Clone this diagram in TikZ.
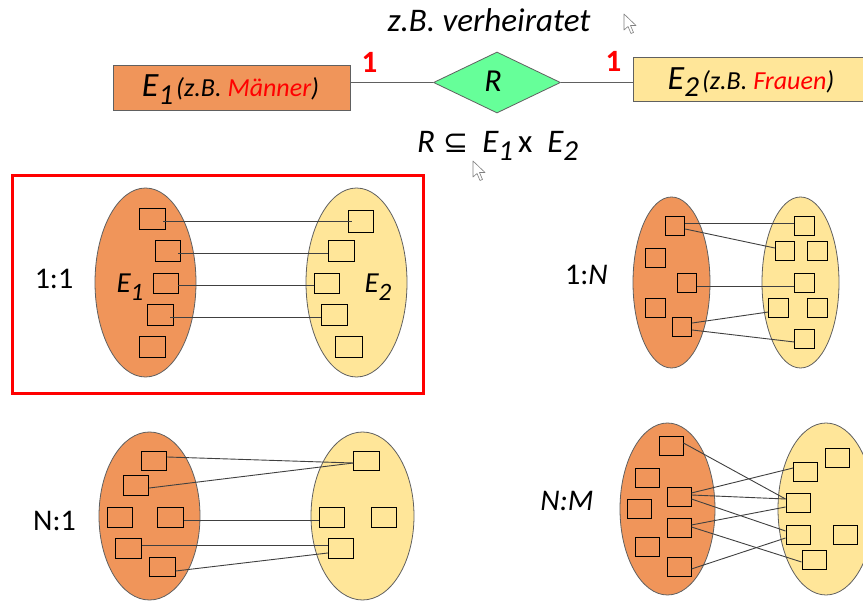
\documentclass[tikz,border=0pt]{standalone}
\usepackage{fontspec}
\setmainfont{Carlito}
\newfontfamily\symfont{DejaVu Sans}
\usetikzlibrary{shapes.geometric,calc}
\definecolor{eorange}{HTML}{F0955A}
\definecolor{eyellow}{HTML}{FFE699}
\definecolor{rgreen}{HTML}{66FF99}
\definecolor{lgray}{HTML}{404040}
\definecolor{egray}{HTML}{606060}
\newcommand\fs[1]{\fontsize{#1}{#1}\selectfont}
\newcommand\bx[5]{\node[elem, minimum width=#4, minimum height=#5] (#1) at (#2,#3) {};}
\newcommand\setell[6]{\node[set, fill=#6, minimum width=#4, minimum height=#5] (#1) at (#2,#3) {};}
\begin{document}
\begin{tikzpicture}[x=1pt,y=-1pt,
  elem/.style={draw=black, line width=0.9pt, inner sep=0pt},
  set/.style={ellipse, draw=egray, line width=0.8pt, inner sep=0pt},
  link/.style={draw=lgray, line width=0.9pt},
  txt/.style={inner sep=0pt, anchor=base},
  entity/.style={draw=egray, line width=0.9pt, inner sep=0pt},
  cursor/.style={fill=white, draw=gray, line width=0.6pt, line join=round}]
\useasboundingbox (0,0) rectangle (863,602);
\fill[white] (0,0) rectangle (863,602);

% ---------- top ER diagram ----------
\node[txt] (verh) at (489,32) {\fs{33}\itshape z.B. verheiratet};
\node[entity, fill=eorange, minimum width=237, minimum height=45] (E1) at (231.5,87.5) {};
\node[entity, fill=eyellow, minimum width=262, minimum height=44] (E2) at (764,79) {};
\node[diamond, draw=egray, fill=rgreen, line width=0.8pt, inner sep=0pt,
      minimum width=127, minimum height=61] (R) at (497,82.5) {};
\draw[link, draw=egray] (E1.east |- R.west) -- (R.west);
\draw[link, draw=egray] (R.east) -- (E2.west |- R.east);
\node[txt] (rlab) at (493,92) {\fs{32}\itshape R};
\node[txt] (E1t) at (230.5,97) {\itshape\fs{34}E\raisebox{-8pt}{\fs{29}1}\hspace{3pt}\fs{26}(z.B. \textcolor{red}{Männer})};
\node[txt] (E2t) at (751,89) {\itshape\fs{34}E\raisebox{-8pt}{\fs{29}2}\hspace{3pt}\fs{26}(z.B. \textcolor{red}{Frauen})};
\node[txt, text=red] (c1) at (369.5,73) {\fs{31}\bfseries 1};
\node[txt, text=red] (c2) at (613.5,72) {\fs{31}\bfseries 1};
\node[txt, anchor=base west] (subset) at (417,153) {\fs{33}\textit{R}\hspace{8pt}{\symfont\fs{30}⊆}\hspace{14pt}\textit{E\raisebox{-8pt}{\fs{29}1}}\hspace{5pt}x\hspace{15pt}\textit{E\raisebox{-8pt}{\fs{29}2}}};

% cursors
\draw[cursor] (624,14) -- (624,30) -- (628,26.5) -- (631,33.5) -- (633.5,32.5) -- (630.5,25.5) -- (636,25.5) -- cycle;
\draw[cursor] (473,161) -- (473,177) -- (477,173.5) -- (480,180.5) -- (482.5,179.5) -- (479.5,172.5) -- (485,172.5) -- cycle;

% ---------- 1:1 ----------
\draw[red, line width=3pt] (12,175) rectangle (423,393);
\node[txt] (t11) at (54,288) {\fs{30}1:1};
\setell{A1}{145.5}{282.5}{101}{189}{eorange}
\setell{B1}{356.5}{282.5}{101}{189}{eyellow}
\node[txt] (A1t) at (130,292) {\itshape\fs{29}E\raisebox{-8pt}{\fs{25}1}};
\node[txt] (B1t) at (378,292) {\itshape\fs{29}E\raisebox{-8pt}{\fs{25}2}};
\bx{l1}{152}{218.5}{26}{21}
\bx{l2}{167.5}{250.5}{25}{21}
\bx{l3}{165.5}{283}{25}{20}
\bx{l4}{160}{314.5}{26}{21}
\bx{l5}{152}{346.5}{26}{21}
\bx{r1}{360.5}{221}{25}{22}
\bx{r2}{341}{250.5}{26}{21}
\bx{r3}{326.5}{283}{25}{20}
\bx{r4}{334}{314.5}{26}{21}
\bx{r5}{348.5}{346.5}{27}{21}
\draw[link] ($(l1.east)+(-2,2.5)$) -- ($(r1.west)+(4,0)$);
\draw[link] ($(l2.east)+(-2,2.5)$) -- ($(r2.west)+(0,2.5)$);
\draw[link] ($(l3.east)+(0,2)$) -- ($(r3.west)+(0,2)$);
\draw[link] ($(l4.east)+(-3,2.5)$) -- ($(r4.west)+(0,2.5)$);

% ---------- 1:N ----------
\node[txt] (t1n) at (586.5,284) {\fs{30}1:\textit{N}};
\setell{A2}{671.5}{282.5}{77}{171}{eorange}
\setell{B2}{800.5}{282.5}{77}{171}{eyellow}
\bx{pa}{675}{225.5}{19.5}{19}
\bx{pb}{655.5}{257.5}{19.5}{19}
\bx{pc}{687}{282.5}{19.5}{19}
\bx{pd}{655.5}{307.5}{19.5}{19}
\bx{pe}{682}{326.5}{19.5}{19}
\bx{qa}{804.5}{225.5}{19.5}{19}
\bx{qb}{785}{251}{19.5}{19}
\bx{qc}{817.5}{251}{19.5}{19}
\bx{qd}{804.5}{282.5}{19.5}{19}
\bx{qe}{778.5}{307.5}{19.5}{19}
\bx{qf}{817.5}{307.5}{19.5}{19}
\bx{qg}{804.5}{338.5}{19.5}{19}
\draw[link] ($(pa.east)+(0,-2.5)$) -- ($(qa.west)+(0,-2.5)$);
\draw[link] ($(pa.east)+(0,3.5)$) -- ($(qb.west)+(0,-3)$);
\draw[link] ($(pc.east)+(0,3.5)$) -- ($(qd.west)+(0,3.5)$);
\draw[link] ($(pe.east)+(0,-3.5)$) -- ($(qe.west)+(0,4.5)$);
\draw[link] ($(pe.east)+(0,3.5)$) -- ($(qg.west)+(0,3.5)$);

% ---------- N:1 ----------
\node[txt] (tn1) at (54.5,530) {\fs{30}N:1};
\setell{A3}{149.5}{516}{101}{168}{eorange}
\setell{B3}{362.5}{516}{103}{168}{eyellow}
\bx{sa}{154}{461}{25.5}{19.5}
\bx{sb}{136}{485.5}{25.5}{19.5}
\bx{sc}{120}{517.5}{25.5}{19.5}
\bx{sd}{170.5}{517.5}{25.5}{19.5}
\bx{se}{128.5}{548.5}{25.5}{19.5}
\bx{sf}{162.5}{567}{25.5}{19.5}
\bx{ua}{366.5}{461}{25.5}{19.5}
\bx{ub}{332}{517.5}{25.5}{19.5}
\bx{uc}{384}{517.5}{25.5}{19.5}
\bx{ud}{341}{548.5}{25.5}{19.5}
\draw[link] ($(sa.east)+(0,-4)$) -- ($(ua.west)+(0,2)$);
\draw[link] ($(sb.east)+(0,2.5)$) -- ($(ua.west)+(0,2)$);
\draw[link] ($(sd.east)+(0,2.5)$) -- ($(ub.west)+(0,2.5)$);
\draw[link] ($(se.east)+(0,-3.5)$) -- ($(ud.west)+(0,-3.5)$);
\draw[link] ($(sf.east)+(0,4)$) -- ($(ud.west)+(0,4.5)$);

% ---------- N:M ----------
\node[txt] (tnm) at (567,510) {\fs{30}\itshape N:M};
\setell{A4}{667.5}{509}{95}{172}{eorange}
\setell{B4}{826}{509}{96}{172}{eyellow}
\bx{va}{671}{445.5}{24}{19}
\bx{vb}{647}{477.5}{24}{19}
\bx{vc}{679}{496.5}{24}{19}
\bx{vd}{639.5}{508.5}{24}{19}
\bx{ve}{679}{527.5}{24}{19}
\bx{vf}{647}{547}{24}{19}
\bx{vg}{679}{566.5}{24}{19}
\bx{wa}{805.5}{471.5}{24}{19}
\bx{wb}{837}{457.5}{24}{19}
\bx{wc}{798}{503}{24}{19}
\bx{wd}{798}{534.5}{24}{19}
\bx{we}{845}{534.5}{24}{19}
\bx{wf}{814}{560}{24}{19}
\draw[link] ($(va.east)+(0,-2.5)$) -- ($(wc.west)+(0,-4)$);
\draw[link] ($(vc.east)+(0,-3.5)$) -- ($(wa.west)+(0,-3.5)$);
\draw[link] ($(vc.east)+(0,-1.5)$) -- ($(wc.west)+(0,-4)$);
\draw[link] ($(vc.east)+(0,2.5)$) -- ($(wd.west)+(0,-3.5)$);
\draw[link] ($(ve.east)+(0,-2.5)$) -- ($(wc.west)+(0,4)$);
\draw[link] ($(ve.east)+(0,-0.5)$) -- ($(wf.west)+(0,2)$);
\draw[link] ($(vg.east)+(0,2.5)$) -- ($(wd.west)+(0,3.5)$);
\end{tikzpicture}
\end{document}
